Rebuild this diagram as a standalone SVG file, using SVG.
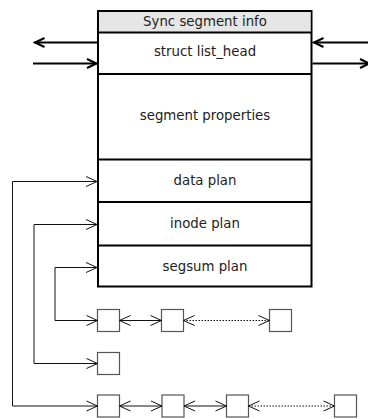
<svg xmlns="http://www.w3.org/2000/svg" width="368" height="419" viewBox="0 0 368 419">
<style>
text{font-family:"DejaVu Sans","Liberation Sans",sans-serif;font-size:13.3px;fill:#222;text-anchor:middle}
.big{fill:#fff;stroke:#000;stroke-width:2}
.div{stroke:#000;stroke-width:2;fill:none}
.sb{fill:#fff;stroke:#555;stroke-width:1.2}
.thick{stroke:#000;stroke-width:2;fill:none}
.thin{stroke:#111;stroke-width:1;fill:none}
.dot{stroke:#111;stroke-width:1;fill:none;stroke-dasharray:1.5 1.5}
</style>
<defs>
<marker id="ak" markerUnits="userSpaceOnUse" orient="auto-start-reverse" overflow="visible" refX="0" refY="0" markerWidth="1" markerHeight="1"><path d="M-10,-4.5 L-0.5,0 L-10,4.5" fill="none" stroke="#000" stroke-width="2"/></marker>
<marker id="an" markerUnits="userSpaceOnUse" orient="auto-start-reverse" overflow="visible" refX="0" refY="0" markerWidth="1" markerHeight="1"><path d="M-11,-5 L0,0 L-11,5" fill="none" stroke="#111" stroke-width="1"/></marker>
</defs>
<g id="sync-segment-info">
<rect class="big" x="98" y="11" width="213.5" height="275.5"/>
<rect x="99" y="12" width="211.5" height="20.5" fill="#e6e6e6"/>
<line class="div" x1="98" y1="32.5" x2="311.5" y2="32.5"/>
<text x="205" y="26">Sync segment info</text>
</g>
<g id="list-head"><line class="div" x1="98" y1="74" x2="311.5" y2="74"/><text x="205" y="56">struct list_head</text></g>
<g id="segment-properties"><line class="div" x1="98" y1="159.5" x2="311.5" y2="159.5"/><text x="205" y="120">segment properties</text></g>
<g id="data-plan"><line class="div" x1="98" y1="202" x2="311.5" y2="202"/><text x="205" y="184.5">data plan</text></g>
<g id="inode-plan"><line class="div" x1="98" y1="245.5" x2="311.5" y2="245.5"/><text x="205" y="227.5">inode plan</text></g>
<g id="segsum-plan"><text x="205" y="270.5">segsum plan</text></g>
<g id="r1b1"><rect class="sb" x="97.5" y="309.5" width="22" height="22"/></g>
<g id="r1b2"><rect class="sb" x="161.5" y="309.5" width="22" height="22"/></g>
<g id="r1b3"><rect class="sb" x="269.5" y="309.5" width="22" height="22"/></g>
<g id="r2b1"><rect class="sb" x="97.5" y="352.5" width="22" height="22"/></g>
<g id="r3b1"><rect class="sb" x="97.5" y="395" width="22" height="22"/></g>
<g id="r3b2"><rect class="sb" x="162" y="395" width="22" height="22"/></g>
<g id="r3b3"><rect class="sb" x="226.5" y="395" width="22" height="22"/></g>
<g id="r3b4"><rect class="sb" x="334.5" y="395" width="22" height="22"/></g>
<g id="connectors">
<line class="thick" x1="97" y1="42.5" x2="34.5" y2="42.5" marker-end="url(#ak)"/>
<line class="thick" x1="33" y1="63.5" x2="97" y2="63.5" marker-end="url(#ak)"/>
<line class="thick" x1="368" y1="42.5" x2="313.5" y2="42.5" marker-end="url(#ak)"/>
<line class="thick" x1="312.5" y1="63.5" x2="370" y2="63.5" marker-end="url(#ak)"/>
<path class="thin" d="M97,181.5 H12.5 V406 H97.5" marker-start="url(#an)" marker-end="url(#an)"/>
<path class="thin" d="M97,224.5 H34 V363.5 H97.5" marker-start="url(#an)" marker-end="url(#an)"/>
<path class="thin" d="M97,267.5 H55 V320.5 H97.5" marker-start="url(#an)" marker-end="url(#an)"/>
<line class="thin" x1="119.5" y1="320.5" x2="161.5" y2="320.5" marker-start="url(#an)" marker-end="url(#an)"/>
<line class="dot" x1="183.5" y1="320.5" x2="269.5" y2="320.5" marker-start="url(#an)" marker-end="url(#an)"/>
<line class="thin" x1="119.5" y1="406" x2="162" y2="406" marker-start="url(#an)" marker-end="url(#an)"/>
<line class="thin" x1="184" y1="406" x2="226.5" y2="406" marker-start="url(#an)" marker-end="url(#an)"/>
<line class="dot" x1="248.5" y1="406" x2="334.5" y2="406" marker-start="url(#an)" marker-end="url(#an)"/>
</g>
</svg>
